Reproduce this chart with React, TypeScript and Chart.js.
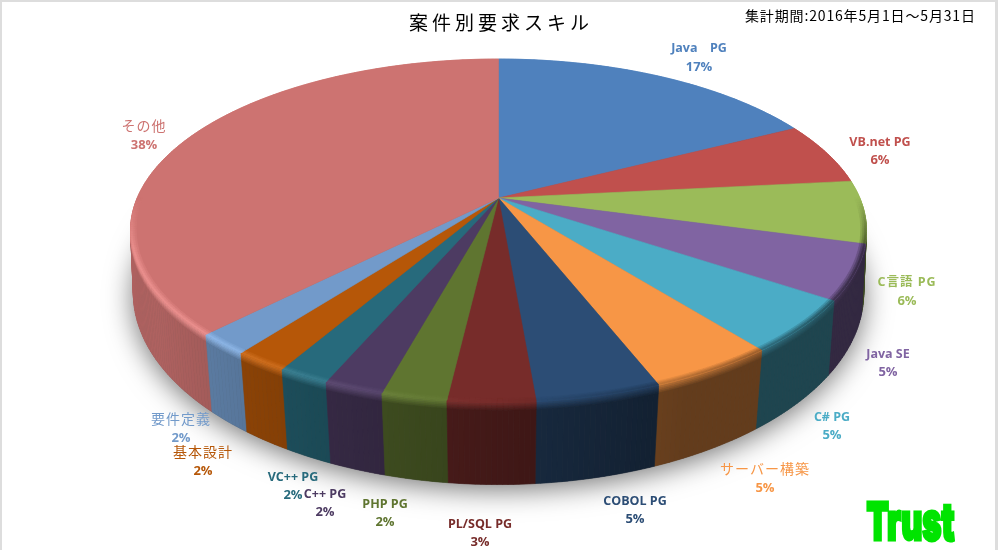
import { useEffect, useRef } from "react";
import { Chart, registerables } from "chart.js";

Chart.register(...registerables);

const categories = ["Java　PG", "VB.net PG", "C言語 PG", "Java SE", "C# PG", "サーバー構築", "COBOL PG", "PL/SQL PG", "PHP PG", "C++ PG", "VC++ PG", "基本設計", "要件定義", "その他"];
const shares = [17.45, 5.9, 5.9, 5.15, 4.95, 4.7, 4.6, 3.2, 2.4, 2.2, 1.9, 2.0, 2.0, 37.65];
const percentLabels = ["17%", "6%", "6%", "5%", "5%", "5%", "5%", "3%", "2%", "2%", "2%", "2%", "2%", "38%"];
const chartTitle = "案件別要求スキル";
const periodNote = "集計期間:2016年5月1日～5月31日";
const logoText = "Trust";

const sliceColors = ["#4F81BD", "#C0504D", "#9BBB59", "#8064A2", "#4BACC6", "#F79646", "#2C4D75", "#772C2A", "#5F7530", "#4D3B62", "#276A7C", "#B65708", "#729ACA", "#CD7371"];
const labelCenters: [number, number][] = [[699, 48], [880, 142], [907, 282], [888, 354], [832, 417], [765, 469], [635, 501], [480, 524], [385, 504], [325, 494], [293, 477], [203, 452], [181, 419], [144, 126]];

const CX = 498.5;
const top = { a: 361.3, b: 165.3, k: 0.1895, y0: 198 };
const bottom = { a: 360, b: 186, k: 0.168, y0: 261 };
type Pt = [number, number];
type Rgb = [number, number, number];

function project(p: typeof top, theta: number, r = 1): Pt {
  const u = r * Math.sin(theta), v = r * Math.cos(theta), w = 1 + p.k * v;
  return [CX + (p.a * u) / w, p.y0 - (p.b * v) / w];
}
const hex = (c: string): Rgb => [1, 3, 5].map((i) => parseInt(c.slice(i, i + 2), 16)) as Rgb;
const mix = (a: Rgb, b: Rgb, t: number): Rgb => [0, 1, 2].map((i) => a[i] + (b[i] - a[i]) * t) as Rgb;
const css = (c: Rgb) => `rgb(${c.map((x) => Math.round(x)).join(",")})`;
const clamp = (x: number, a: number, b: number) => Math.max(a, Math.min(b, x));
const lerpPt = (a: Pt, b: Pt, t: number): Pt => [a[0] + (b[0] - a[0]) * t, a[1] + (b[1] - a[1]) * t];

function poly(ctx: CanvasRenderingContext2D, pts: Pt[], color: string) {
  ctx.beginPath();
  pts.forEach((p, i) => (i ? ctx.lineTo(p[0], p[1]) : ctx.moveTo(p[0], p[1])));
  ctx.closePath();
  ctx.fillStyle = color;
  ctx.strokeStyle = color;
  ctx.lineWidth = 0.6;
  ctx.fill();
  ctx.stroke();
}

const shading = (theta: number) => {
  const h = Math.cos(theta - (3 * Math.PI) / 2);
  const wallF = clamp(0.55 + 0.35 * h, 0.4, 0.85);
  const fade = clamp(-Math.cos(theta) / 0.3, 0, 1);
  return { h, wallF, fade };
};
const rimColor = (base: Rgb, theta: number): Rgb => {
  const { h, fade } = shading(theta);
  if (h > 0) return mix(base, base.map((x) => Math.min(255, x + 28)) as Rgb, clamp(h * 1.4, 0, 1) * fade);
  return mix(base, [0, 0, 0], Math.min(0.55, -h * 0.6) * fade);
};

const pie3d = {
  id: "pie3d",
  beforeDatasetsDraw(chart: any) {
    const ctx: CanvasRenderingContext2D = chart.ctx;
    const arcs = chart.getDatasetMeta(0).data;
    const STEP = Math.PI / 240;
    ctx.save();
    ctx.fillStyle = "#fff";
    ctx.fillRect(0, 0, chart.width, chart.height);

    // floor shadow
    const outline: Pt[] = [];
    for (let i = 0; i < 360; i++) outline.push(project(bottom, (i * Math.PI) / 180));
    ctx.save();
    ctx.shadowColor = "rgba(0,0,0,0.55)";
    ctx.shadowBlur = 28;
    ctx.shadowOffsetY = 5;
    ctx.beginPath();
    outline.forEach((p, i) => (i ? ctx.lineTo(p[0], p[1]) : ctx.moveTo(p[0], p[1])));
    ctx.closePath();
    ctx.fillStyle = "#555";
    ctx.fill();
    ctx.restore();

    // side wall strips
    const strips: { y: number; draw: () => void }[] = [];
    arcs.forEach((arc: any, idx: number) => {
      const base = hex(sliceColors[idx]);
      const a0 = arc.startAngle + Math.PI / 2, a1 = arc.endAngle + Math.PI / 2;
      const n = Math.max(1, Math.ceil((a1 - a0) / STEP));
      for (let i = 0; i < n; i++) {
        const t0 = a0 + ((a1 - a0) * i) / n, t1 = a0 + ((a1 - a0) * (i + 1)) / n, tm = (t0 + t1) / 2;
        const A = project(top, t0), B = project(top, t1), C = project(bottom, t1), D = project(bottom, t0);
        strips.push({
          y: (A[1] + B[1]) / 2,
          draw() {
            const { wallF } = shading(tm);
            const wall = mix([0, 0, 0], base, wallF);
            const rim = rimColor(base, tm);
            const bands = [0, 0.02, 0.04, 0.06, 0.08, 0.1, 1];
            for (let b = 0; b < bands.length - 1; b++) {
              const f = b / (bands.length - 2);
              poly(ctx, [lerpPt(A, D, bands[b]), lerpPt(B, C, bands[b]), lerpPt(B, C, bands[b + 1]), lerpPt(A, D, bands[b + 1])], css(mix(rim, wall, Math.min(1, f))));
            }
          },
        });
      }
    });
    strips.sort((p, q) => p.y - q.y).forEach((s) => s.draw());

    // top face
    arcs.forEach((arc: any, idx: number) => {
      const a0 = arc.startAngle + Math.PI / 2, a1 = arc.endAngle + Math.PI / 2;
      const n = Math.max(2, Math.ceil((a1 - a0) / STEP));
      const pts: Pt[] = [project(top, 0, 0)];
      for (let i = 0; i <= n; i++) pts.push(project(top, a0 + ((a1 - a0) * i) / n));
      poly(ctx, pts, sliceColors[idx]);
    });
    // bevel inside the rim
    arcs.forEach((arc: any, idx: number) => {
      const base = hex(sliceColors[idx]);
      const a0 = arc.startAngle + Math.PI / 2, a1 = arc.endAngle + Math.PI / 2;
      const n = Math.max(2, Math.ceil((a1 - a0) / STEP));
      const radii = [0.985, 0.99, 0.995, 1];
      for (let i = 0; i < n; i++) {
        const t0 = a0 + ((a1 - a0) * i) / n, t1 = a0 + ((a1 - a0) * (i + 1)) / n, tm = (t0 + t1) / 2;
        if (shading(tm).fade <= 0) continue;
        const rim = rimColor(base, tm);
        for (let r = 0; r < radii.length - 1; r++) {
          poly(ctx, [project(top, t0, radii[r]), project(top, t1, radii[r]), project(top, t1, radii[r + 1]), project(top, t0, radii[r + 1])], css(mix(base, rim, (r + 1) / (radii.length - 1))));
        }
      }
    });
    ctx.restore();
    return false;
  },
  afterDraw(chart: any) {
    const ctx: CanvasRenderingContext2D = chart.ctx;
    ctx.save();
    ctx.textAlign = "center";
    ctx.textBaseline = "middle";
    categories.forEach((name, i) => {
      const [x, y] = labelCenters[i];
      const cjk = /[^\x00-\x7f]/.test(name);
      const pureCjk = cjk && !/PG/.test(name);
      ctx.fillStyle = sliceColors[i];
      (ctx as any).letterSpacing = pureCjk ? "1px" : /言/.test(name) ? "1px" : "0px";
      ctx.font = pureCjk ? '14px "Noto Sans CJK JP"' : 'bold 12.5px "Open Sans", "Noto Sans CJK JP"';
      ctx.fillText(name, x, y);
      (ctx as any).letterSpacing = "0px";
      ctx.font = 'bold 13px "Open Sans"';
      ctx.fillText(percentLabels[i], x, y + (cjk ? 19 : 18));
    });

    ctx.fillStyle = "#000";
    (ctx as any).letterSpacing = "4px";
    ctx.font = '19px "Noto Sans CJK JP"';
    ctx.fillText(chartTitle, 501, 23);
    (ctx as any).letterSpacing = "0.85px";
    ctx.textAlign = "left";
    ctx.font = '14px "Noto Sans CJK JP"';
    ctx.fillText(periodNote, 745, 16);
    (ctx as any).letterSpacing = "0px";

    ctx.fillStyle = "#00E400";
    ctx.strokeStyle = "#00E400";
    ctx.lineWidth = 3;
    ctx.lineJoin = "miter";
    ctx.font = '900 52px "Inter", "DejaVu Sans"';
    ctx.textBaseline = "alphabetic";
    ctx.fillText(logoText, 866.5, 539.5, 88);
    ctx.strokeText(logoText, 866.5, 539.5, 88);

    ctx.fillStyle = "#DDDDDD";
    ctx.fillRect(0, 0, chart.width, 2);
    ctx.fillRect(0, 0, 2, chart.height);
    ctx.fillRect(chart.width - 3, 0, 3, chart.height);
    ctx.restore();
  },
};

export default function App() {
  const ref = useRef<HTMLCanvasElement>(null);
  useEffect(() => {
    document.body.style.margin = "0";
    const chart = new Chart(ref.current!, {
      type: "pie",
      data: { labels: categories, datasets: [{ data: shares, backgroundColor: sliceColors, borderWidth: 0 }] },
      options: {
        responsive: false,
        animation: false,
        plugins: { legend: { display: false }, tooltip: { enabled: false }, title: { display: false } },
      },
      plugins: [pie3d],
    } as any);
    return () => chart.destroy();
  }, []);
  return <canvas ref={ref} width={998} height={550} style={{ display: "block" }} />;
}
